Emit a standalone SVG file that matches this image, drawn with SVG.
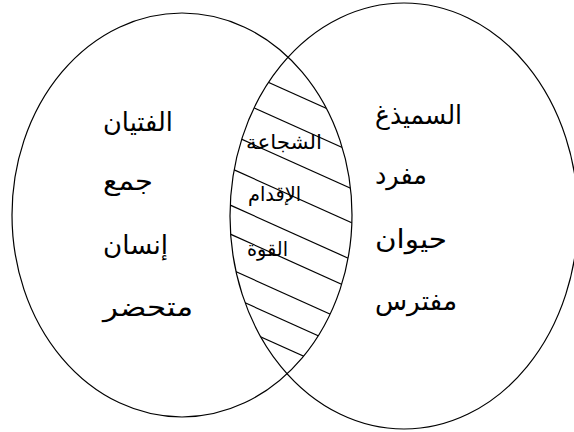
<svg xmlns="http://www.w3.org/2000/svg" width="574" height="432" viewBox="0 0 574 432">
<style>
.set{fill:none;stroke:#000;stroke-width:1.2}
.hatch{stroke:#000;stroke-width:1.2}
.lbl{font-family:"DejaVu Sans","Noto Sans",sans-serif;font-size:26px;fill:#000}
.mid{font-family:"DejaVu Sans","Noto Sans",sans-serif;font-size:20px;fill:#000}
</style>
<defs>
<clipPath id="clipR"><ellipse cx="404" cy="216" rx="174" ry="213"/></clipPath>
<clipPath id="clipL"><ellipse cx="182" cy="215" rx="170" ry="202"/></clipPath>
</defs>
<rect width="574" height="432" fill="#fff"/>
<g id="intersection">
<g clip-path="url(#clipR)"><g clip-path="url(#clipL)">
<line class="hatch" x1="220" y1="60.5" x2="360" y2="123.5"/>
<line class="hatch" x1="220" y1="92.5" x2="360" y2="155.5"/>
<line class="hatch" x1="220" y1="129.5" x2="360" y2="192.5"/>
<line class="hatch" x1="220" y1="163.5" x2="360" y2="226.5"/>
<line class="hatch" x1="220" y1="200.5" x2="360" y2="263.5"/>
<line class="hatch" x1="220" y1="229.5" x2="360" y2="292.5"/>
<line class="hatch" x1="220" y1="264.5" x2="360" y2="327.5"/>
<line class="hatch" x1="220" y1="291.5" x2="360" y2="354.5"/>
<line class="hatch" x1="220" y1="318.5" x2="360" y2="381.5"/>
</g></g>
<text class="mid" x="246" y="149" textLength="76" lengthAdjust="spacingAndGlyphs">الشجاعة</text>
<text class="mid" x="248" y="201" textLength="53" lengthAdjust="spacingAndGlyphs">الإقدام</text>
<text class="mid" x="247" y="256" textLength="41" lengthAdjust="spacingAndGlyphs">القوة</text>
</g>
<g id="set-left">
<ellipse class="set" cx="182" cy="215" rx="170" ry="202"/>
<text class="lbl" x="103" y="131" textLength="70" lengthAdjust="spacingAndGlyphs">الفتيان</text>
<text class="lbl" x="103" y="190" textLength="50" lengthAdjust="spacingAndGlyphs">جمع</text>
<text class="lbl" x="103" y="254" textLength="65" lengthAdjust="spacingAndGlyphs">إنسان</text>
<text class="lbl" x="103" y="316" textLength="90" lengthAdjust="spacingAndGlyphs">متحضر</text>
</g>
<g id="set-right">
<ellipse class="set" cx="404" cy="216" rx="174" ry="213"/>
<text class="lbl" x="375" y="124" textLength="87" lengthAdjust="spacingAndGlyphs">السميذغ</text>
<text class="lbl" x="375" y="184" textLength="52" lengthAdjust="spacingAndGlyphs">مفرد</text>
<text class="lbl" x="375" y="248" textLength="72" lengthAdjust="spacingAndGlyphs">حيوان</text>
<text class="lbl" x="375" y="310" textLength="82" lengthAdjust="spacingAndGlyphs">مفترس</text>
</g>
<g id="connectors"/>
</svg>
